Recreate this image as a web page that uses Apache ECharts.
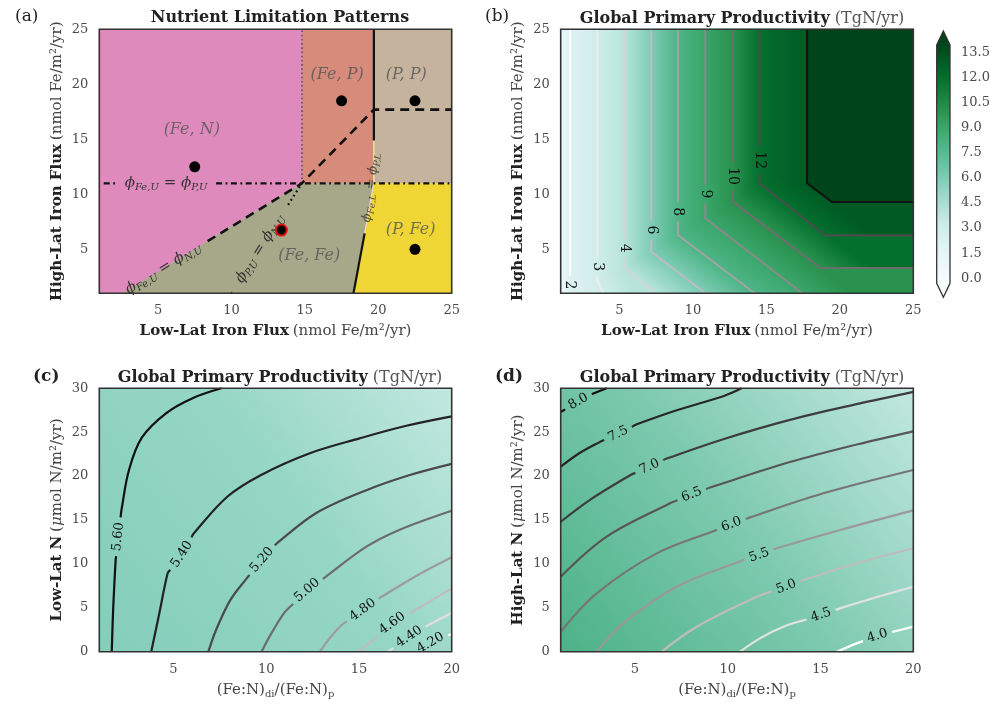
<!DOCTYPE html>
<html>
<head>
<meta charset="utf-8">
<script src="https://cdn.jsdelivr.net/npm/echarts@6.0.0/dist/echarts.min.js"></script>
<style>html,body{margin:0;padding:0;background:#fff;}#chart{width:990px;height:706px;}</style>
</head>
<body>
<div id="chart"></div>
<script>
// ======================= DATA =======================
// ---- Panel (a): nutrient limitation regimes ----
const aXRange = [1, 25];
const aYRange = [1, 25];
const aTicks = [5, 10, 15, 20, 25];
const aRegionNames = ['(Fe, N)', '(Fe, P)', '(P, P)', '(Fe, Fe)', '(P, Fe)'];
const aRegionLabelXY = [[7.3, 15.9], [17.2, 20.9], [21.9, 20.9], [15.3, 4.4], [22.2, 6.8]];
const aRegionPolygons = [
  [[1, 1], [2.6, 1], [14.8, 11], [14.8, 25], [1, 25]],
  [[14.8, 11], [19.7, 11], [19.7, 25], [14.8, 25]],
  [[19.7, 11], [25, 11], [25, 25], [19.7, 25]],
  [[2.6, 1], [18.31, 1], [19.07, 6.45], [19.7, 11], [14.8, 11]],
  [[18.31, 1], [25, 1], [25, 11], [19.7, 11], [19.07, 6.45]]
];
const aPoints = [[7.5, 12.5], [17.5, 18.5], [22.5, 18.5], [22.5, 5]];
const aHighlightPoint = [[13.4, 6.75]];
const aDashedLine = [[2.6, 1], [5.36, 3.26], [14.8, 11], [19.7, 17.7], [25, 17.7]];
const aDashDotLine = [[1.3, 11], [5.55, 11], [25, 11]];
const aDottedLine = [[10.0, 1], [11.95, 5.06], [14.8, 11]];
const aDottedVertical = [[14.8, 11], [14.8, 25]];
const aSolidLower = [[18.31, 1], [19.07, 6.45]];
const aSolidUpper = [[19.7, 14.9], [19.7, 25]];
const aThinLower = [[19.07, 6.45], [19.7, 11]];
const aThinUpper = [[19.7, 11], [19.7, 14.9]];
const aDashDotText = '{i|ϕ}{s|Fe,U}{i| = ϕ}{s|P,U}';
const aDashedText = '{i|ϕ}{s|Fe,U}{i| = ϕ}{s|N,U}';
const aDottedText = '{i|ϕ}{s|P,U}{i| = ϕ}{s|N,U}';
const aVerticalText = '{i|ϕ}{s|Fe,L}{i| = ϕ}{s|P,L}';
const aVerticalLabelXY = [19.5, 10.6];

// ---- Panel (b): productivity vs iron fluxes ----
const bXRange = [1, 25];
const bYRange = [1, 25];
const bTicks = [5, 10, 15, 20, 25];
const bLevels = [2, 3, 4, 6, 8, 9, 10, 12, 13];
const bContours = [
  [[1.63, 25], [1.63, 1.75], [1.63, 1]],
  [[3.49, 25], [3.49, 3.42], [3.49, 2.21], [3.9, 1]],
  [[5.34, 25], [5.34, 5.1], [5.34, 3.27], [7.45, 1]],
  [[7.16, 25], [7.16, 6.75], [7.16, 4.78], [10.85, 1]],
  [[8.98, 25], [8.98, 8.42], [8.98, 6.3], [14.2, 1]],
  [[10.84, 25], [10.84, 10.03], [10.84, 7.82], [17.45, 1]],
  [[12.7, 25], [12.7, 11.66], [12.7, 9.33], [18.68, 3.3], [25, 3.3]],
  [[14.54, 25], [14.54, 13.1], [14.54, 11.0], [19.0, 6.25], [25, 6.25]],
  [[17.77, 25], [17.77, 11.0], [19.47, 9.3], [25, 9.3]]
];
const bLabelVertex = [1, 1, 1, 1, 1, 1, 1, 1, null];
const bEdgeValues = [1.0, 13.94];     // value at left edge, value of plateau
const bColorbarExtent = [-0.3, 13.94];
const bColorbarTicks = [0, 13.5];

// ---- Panel (c): productivity vs Low-Lat N ----
const cXRange = [1, 20];
const cYRange = [0, 30];
const cXTicks = [5, 10, 15, 20];
const cLevels = ['5.60', '5.40', '5.20', '5.00', '4.80', '4.60', '4.40', '4.20'];
const cContours = [
  [[1.67, 0], [1.75, 5], [1.88, 10.4], [2.02, 13.1], [2.2, 16.2], [2.6, 20.7], [3.3, 24.4], [4.63, 27.2], [6.06, 28.9], [7.58, 30]],
  [[3.8, 0], [4.2, 4], [4.68, 8.9], [5.45, 11.1], [6.1, 13.5], [7.9, 17.65], [9.7, 20.1], [12.35, 22.6], [15.04, 24.3], [17.5, 25.7], [20, 26.8]],
  [[6.88, 0], [7.3, 2.5], [8.07, 5.9], [9.0, 8.5], [9.77, 10.45], [10.57, 12.35], [12.7, 15.8], [15.4, 18.4], [17.7, 20.1], [20, 21.4]],
  [[9.75, 0], [10.2, 1.8], [10.95, 4.37], [12.2, 7.0], [13.1, 8.36], [15.4, 11.96], [17.2, 13.9], [20, 16.06]],
  [[12.9, 0], [13.3, 1.2], [13.96, 2.85], [15.2, 4.75], [16.1, 6.1], [18.06, 8.6], [20, 10.75]],
  [[14.95, 0], [15.75, 1.33], [16.8, 3.23], [18.3, 5.07], [20, 7.2]],
  [[16.55, 0], [17.0, 0.6], [17.7, 1.7], [18.7, 3.0], [20, 4.4]],
  [[18.24, 0], [18.85, 1.0], [19.6, 1.7], [20, 2.0]]
];
const cLabelVertex = [3, 3, 4, 3, 3, 2, 2, 1];

// ---- Panel (d): productivity vs High-Lat N ----
const dXRange = [1, 20];
const dYRange = [0, 30];
const dXTicks = [5, 10, 15, 20];
const dLevels = ['8.0', '7.5', '7.0', '6.5', '6.0', '5.5', '5.0', '4.5', '4.0'];
const dContours = [
  [[1, 27.3], [1.95, 28.5], [2.76, 29.4], [3.48, 30]],
  [[1, 21.07], [2.0, 22.6], [3.12, 23.9], [4.1, 24.8], [5.1, 25.9], [7.25, 27.5], [9.76, 29.1], [10.75, 30]],
  [[1, 14.8], [2.58, 17.3], [4.74, 20.1], [5.78, 21.07], [6.71, 22.0], [9.76, 24.2], [13.35, 26.4], [16.95, 28.2], [20, 29.6]],
  [[1, 8.54], [3.48, 13.1], [6.89, 16.9], [8.06, 17.9], [9.05, 18.7], [13.35, 21.6], [16.95, 23.6], [20, 25.1]],
  [[1, 2.28], [2.94, 6.65], [6.17, 11.2], [9.4, 13.86], [10.2, 14.5], [11.2, 15.3], [15.15, 18.04], [20, 20.7]],
  [[2.94, 0], [4.37, 3.23], [7.25, 7.4], [10.84, 10.45], [11.7, 11.0], [12.64, 11.78], [16.05, 13.86], [20, 16.1]],
  [[6.44, 0], [8.33, 2.85], [11.57, 6.26], [13.15, 7.4], [14.08, 8.17], [16.95, 10.07], [20, 11.78]],
  [[10.66, 0], [11.8, 1.6], [13.0, 2.85], [15.03, 4.18], [16.05, 4.94], [18, 6.2], [20, 7.4]],
  [[15.88, 0], [16.95, 0.95], [18.07, 1.79], [18.93, 2.28], [20, 2.85]]
];
const dLabelVertex = [1, 3, 3, 3, 4, 4, 3, 3, 2];

// ======================= STYLE =======================
const FONT = 'DejaVu Serif';
const BuGn = ['#f7fcfd', '#e5f5f9', '#ccece6', '#99d8c9', '#66c2a4', '#41ae76', '#238b45', '#006d2c', '#00441b'];
const aRegionColors = ['#df8abd', '#d68b7b', '#c5b39d', '#a7a789', '#efd634'];
const bLineColors = ['#ffffff', '#ececec', '#d4d4d4', '#bdbdbd', '#a3a3a3', '#8a8a8a', '#6e6e6e', '#4d4d4d', '#111111'];
const cLineColors = ['#111111', '#222222', '#4a4a4a', '#6c6c6c', '#9c9c9c', '#bdbdbd', '#e0e0e0', '#fbfbfb'];
const dLineColors = ['#111111', '#262626', '#3d3d3d', '#575757', '#767676', '#999999', '#bdbdbd', '#e2e2e2', '#ffffff'];
const TICK_COLOR = '#4a4a4a';
const richMath = {
  i: { fontFamily: FONT, fontStyle: 'italic', fontSize: 15, fill: '#333' },
  s: { fontFamily: FONT, fontStyle: 'italic', fontSize: 10, fill: '#333', padding: [8, 0, 0, 0] }
};

// colour of a value on the BuGn scale used by panel (b)
function hexToRgb(h) { return [parseInt(h.substr(1, 2), 16), parseInt(h.substr(3, 2), 16), parseInt(h.substr(5, 2), 16)]; }
function scaleColor(v) {
  let t = (v - bColorbarExtent[0]) / (bColorbarExtent[1] - bColorbarExtent[0]);
  t = Math.max(0, Math.min(1, t)) * (BuGn.length - 1);
  const i = Math.min(BuGn.length - 2, Math.floor(t)), f = t - i;
  const a = hexToRgb(BuGn[i]), b = hexToRgb(BuGn[i + 1]);
  return 'rgb(' + a.map(function (c, k) { return Math.round(c + f * (b[k] - c)); }).join(',') + ')';
}

const measureCtx = document.createElement('canvas').getContext('2d');
function measure(str, size) { measureCtx.font = size + 'px "' + FONT + '"'; return measureCtx.measureText(str).width; }

function cutLine(px, li, half) {
  const s = [0];
  for (let i = 1; i < px.length; i++) s.push(s[i - 1] + Math.hypot(px[i][0] - px[i - 1][0], px[i][1] - px[i - 1][1]));
  const total = s[s.length - 1];
  const at = function (t) {
    t = Math.max(0, Math.min(total, t));
    for (let i = 1; i < px.length; i++) {
      if (t <= s[i] || i === px.length - 1) {
        const L = (s[i] - s[i - 1]) || 1;
        const f = (t - s[i - 1]) / L;
        return [px[i - 1][0] + f * (px[i][0] - px[i - 1][0]), px[i - 1][1] + f * (px[i][1] - px[i - 1][1])];
      }
    }
    return px[px.length - 1];
  };
  const s0 = s[li], a = s0 - half, b = s0 + half;
  const seg1 = [], seg2 = [];
  for (let i = 0; i < px.length; i++) if (s[i] < a) seg1.push(px[i]);
  if (a > 0) seg1.push(at(a));
  if (b < total) seg2.push(at(b));
  for (let i = 0; i < px.length; i++) if (s[i] > b) seg2.push(px[i]);
  const p1 = at(a), p2 = at(b);
  let ang = Math.atan2(-(p2[1] - p1[1]), p2[0] - p1[0]);
  if (ang > Math.PI / 2 + 0.01) ang -= Math.PI;
  if (ang < -Math.PI / 2 - 0.01) ang += Math.PI;
  return { segs: [seg1, seg2], pos: px[li], ang: ang };
}

function lineSeries(gi, defs, z) {
  return {
    type: 'custom', xAxisIndex: gi, yAxisIndex: gi, z: z, silent: true,
    data: defs.map(function (d, i) { return [i]; }),
    renderItem: function (params, api) {
      const d = defs[params.dataIndex];
      const px = d.pts.map(function (p) { return api.coord(p); });
      const children = [];
      let segs = [px];
      let lab = null;
      if (d.li !== null && d.li !== undefined) {
        const half = (d.gap != null) ? d.gap : measure(d.text, d.fontSize) / 2 + 5;
        lab = cutLine(px, d.li, half);
        segs = lab.segs;
      }
      segs.forEach(function (seg) {
        if (seg.length > 1) children.push({ type: 'polyline', shape: { points: seg, smooth: d.smooth || 0 },
          style: { stroke: d.color, lineWidth: d.width, fill: null, lineDash: d.dash || null, lineCap: d.cap || 'butt' } });
      });
      if (lab) {
        children.push({ type: 'text', x: lab.pos[0], y: lab.pos[1], rotation: lab.ang,
          style: { text: d.text, rich: d.rich, fontFamily: FONT, fontSize: d.fontSize, fontStyle: d.fontStyle || 'normal',
            fill: d.textColor || '#111', align: 'center', verticalAlign: 'middle' } });
      }
      return { type: 'group', children: children };
    }
  };
}

// ---- line definitions ----
const aLineDefs = [
  { pts: aThinLower, color: '#f3d9c8', width: 1.2 },
  { pts: aThinUpper, color: '#f4ee9c', width: 1.2 },
  { pts: aDottedVertical, color: '#5e4a8a', width: 1.6, dash: [1.6, 2.6] },
  { pts: aDashDotLine, color: '#111', width: 2.2, dash: [6, 3.5, 1.8, 3.5], li: 1, gap: 50, text: aDashDotText, rich: richMath, fontSize: 15 },
  { pts: aDottedLine, color: '#111', width: 2.2, dash: [1.8, 3.2], li: 1, gap: 52, text: aDottedText, rich: richMath, fontSize: 15 },
  { pts: aDashedLine, color: '#111', width: 2.6, dash: [9, 6], li: 1, gap: 52, text: aDashedText, rich: richMath, fontSize: 15 },
  { pts: aSolidLower, color: '#111', width: 2.2 },
  { pts: aSolidUpper, color: '#111', width: 2.2 }
];
const bLineDefs = bContours.map(function (pts, i) {
  return { pts: pts, color: bLineColors[i], width: 2, li: bLabelVertex[i], text: String(bLevels[i]), fontSize: 14, textColor: '#111' };
});
const cLineDefs = cContours.map(function (pts, i) {
  return { pts: pts, color: cLineColors[i], width: 2.2, li: cLabelVertex[i], text: cLevels[i], fontSize: 13, textColor: '#111', smooth: 0.35 };
});
const dLineDefs = dContours.map(function (pts, i) {
  return { pts: pts, color: dLineColors[i], width: 2.2, li: dLabelVertex[i], text: dLevels[i], fontSize: 13, textColor: '#111', smooth: 0.35 };
});

// ---- filled bands of panel (b) built from its contours ----
const bBoundaries = [[[bXRange[0], bYRange[1]], [bXRange[0], bYRange[0]]]].concat(bContours);
const bBoundaryValues = [bEdgeValues[0]].concat(bLevels);
function kneeIndex(pts) { let k = 0; for (let i = 0; i < pts.length; i++) if (pts[i][0] === pts[0][0]) k = i; return k; }

function bandPieces(k, api) {
  const A = bBoundaries[k], B = bBoundaries[k + 1];
  const cA = scaleColor(bBoundaryValues[k]), cB = scaleColor(bBoundaryValues[k + 1]);
  const kA = kneeIndex(A), kB = kneeIndex(B);
  const P = function (p) { return api.coord(p); };
  const pieces = [];
  // upper part: between the vertical stretches -> horizontal colour change
  const upper = A.slice(0, kA + 1).concat(B.slice(0, kB + 1).reverse()).map(P);
  const xa = P(A[0])[0], xb = P(B[0])[0];
  const g1 = { type: 'linear', global: true, x: xa, y: 0, x2: xb, y2: 0, colorStops: [{ offset: 0, color: cA }, { offset: 1, color: cB }] };
  pieces.push({ type: 'polygon', shape: { points: upper }, style: { fill: g1, stroke: g1, lineWidth: 1 } });
  // lower part: along the slanted stretches
  const endA = A[A.length - 1], endB = B[B.length - 1];
  const lowerData = A.slice(kA);
  if (endA[1] === bYRange[0] && endB[0] === bXRange[1] && endB[1] !== bYRange[0]) lowerData.push([bXRange[1], bYRange[0]]);
  const lower = lowerData.concat(B.slice(kB).reverse()).map(P);
  if (lower.length >= 3) {
    const src = (kA < A.length - 1) ? A : B, ks = (kA < A.length - 1) ? kA : kB;
    const p0 = P(src[ks]), p1 = P(src[Math.min(ks + 1, src.length - 1)]);
    const dx = p1[0] - p0[0], dy = p1[1] - p0[1];
    const len = Math.hypot(dx, dy) || 1;
    const n = [dy / len, -dx / len];
    const pa = P(A[kA]), pb = P(B[kB]);
    const dist = (pb[0] - pa[0]) * n[0] + (pb[1] - pa[1]) * n[1];
    let fill;
    if (dist > 1) fill = { type: 'linear', global: true, x: pa[0], y: pa[1], x2: pa[0] + n[0] * dist, y2: pa[1] + n[1] * dist,
      colorStops: [{ offset: 0, color: cA }, { offset: 1, color: cB }] };
    else fill = cB;
    pieces.push({ type: 'polygon', shape: { points: lower }, style: { fill: fill, stroke: fill, lineWidth: 1 } });
  }
  return pieces;
}

// ---- axes helpers ----
const axisRich = {
  b: { fontFamily: FONT, fontWeight: 'bold', fontSize: 15, color: '#222' },
  n: { fontFamily: FONT, fontWeight: 'normal', fontSize: 15, color: '#444' },
  it: { fontFamily: FONT, fontWeight: 'normal', fontStyle: 'italic', fontSize: 15, color: '#444' },
  sb: { fontFamily: FONT, fontWeight: 'normal', fontSize: 10, color: '#444', padding: [9, 0, 0, 0] }
};
const titleRich = {
  b: { fontFamily: FONT, fontWeight: 'bold', fontSize: 16, color: '#222' },
  n: { fontFamily: FONT, fontWeight: 'normal', fontSize: 16, color: '#555' },
  L: { fontFamily: FONT, fontWeight: 'normal', fontSize: 17, color: '#222' },
  LB: { fontFamily: FONT, fontSize: 17, fontWeight: 'bold', color: '#222' }
};
function xAxisOf(gi, range, ticks, name, nameGap) {
  return { type: 'value', gridIndex: gi, min: range[0], max: range[1],
    axisLine: { show: false }, axisTick: { show: false }, splitLine: { show: false },
    axisLabel: { customValues: ticks, color: TICK_COLOR, fontFamily: FONT, fontSize: 13, margin: 11 },
    name: name, nameLocation: 'middle', nameGap: nameGap, nameMoveOverlap: false,
    nameTextStyle: { fontFamily: FONT, fontWeight: 'normal', rich: axisRich } };
}
function yAxisOf(gi, range, ticks, interval, name, nameGap) {
  const ax = { type: 'value', gridIndex: gi, min: range[0], max: range[1],
    axisLine: { show: false }, axisTick: { show: false }, splitLine: { show: false },
    axisLabel: { color: TICK_COLOR, fontFamily: FONT, fontSize: 13, margin: 11 },
    name: name, nameLocation: 'middle', nameGap: nameGap, nameRotate: 90, nameMoveOverlap: false,
    nameTextStyle: { fontFamily: FONT, fontWeight: 'normal', rich: axisRich } };
  if (ticks) ax.axisLabel.customValues = ticks; else ax.interval = interval;
  return ax;
}

function frameSeries(gi, xr, yr) {
  return { type: 'custom', xAxisIndex: gi, yAxisIndex: gi, z: 20, silent: true,
    data: [[xr[0], yr[0], xr[1], yr[1]]],
    renderItem: function (params, api) {
      const p0 = api.coord([api.value(0), api.value(3)]);
      const p1 = api.coord([api.value(2), api.value(1)]);
      return { type: 'rect', shape: { x: p0[0], y: p0[1], width: p1[0] - p0[0], height: p1[1] - p0[1] },
        style: { fill: null, stroke: '#333', lineWidth: 1.6 } };
    } };
}

const gradC = { type: 'linear', x: 0, y: 1, x2: 1, y2: 0, colorStops: [
  { offset: 0, color: '#84ceba' }, { offset: 0.55, color: '#95d6c4' }, { offset: 1, color: '#c2e8e0' }] };
const gradD = { type: 'linear', x: 0, y: 1, x2: 1, y2: 0, colorStops: [
  { offset: 0, color: '#4cb287' }, { offset: 0.5, color: '#7ecab0' }, { offset: 1, color: '#c2e8df' }] };

const chart = echarts.init(document.getElementById('chart'));
const option = {
  animation: false,
  backgroundColor: '#ffffff',
  title: [
    { text: '{L|(a)}', left: 10, top: 3, textStyle: { fontWeight: 'normal', rich: titleRich } },
    { text: '{b|Nutrient Limitation Patterns}', left: 275, top: 5, textAlign: 'center', textStyle: { fontWeight: 'normal', rich: titleRich } },
    { text: '{L|(b)}', left: 480, top: 3, textStyle: { fontWeight: 'normal', rich: titleRich } },
    { text: '{b|Global Primary Productivity} {n|(TgN/yr)}', left: 737, top: 5, textAlign: 'center', textStyle: { fontWeight: 'normal', rich: titleRich } },
    { text: '{LB|(c)}', left: 28, top: 363, textStyle: { fontWeight: 'normal', rich: titleRich } },
    { text: '{b|Global Primary Productivity} {n|(TgN/yr)}', left: 275, top: 364, textAlign: 'center', textStyle: { fontWeight: 'normal', rich: titleRich } },
    { text: '{LB|(d)}', left: 490, top: 363, textStyle: { fontWeight: 'normal', rich: titleRich } },
    { text: '{b|Global Primary Productivity} {n|(TgN/yr)}', left: 737, top: 364, textAlign: 'center', textStyle: { fontWeight: 'normal', rich: titleRich } }
  ],
  grid: [
    { left: 99.3, top: 29.3, width: 352.4, height: 264, outerBoundsMode: 'none' },
    { left: 560.7, top: 29.3, width: 352.6, height: 264, outerBoundsMode: 'none' },
    { left: 99.3, top: 388.3, width: 352.4, height: 263.4, show: true, backgroundColor: gradC, borderWidth: 0, outerBoundsMode: 'none' },
    { left: 560.7, top: 388.3, width: 352.6, height: 263.4, show: true, backgroundColor: gradD, borderWidth: 0, outerBoundsMode: 'none' },
    { left: 936.7, top: 52.3, width: 13.3, height: 226, outerBoundsMode: 'none' }
  ],
  xAxis: [
    xAxisOf(0, aXRange, aTicks, '{b|Low-Lat Iron Flux} {n|(nmol Fe/m²/yr)}', 30),
    xAxisOf(1, bXRange, bTicks, '{b|Low-Lat Iron Flux} {n|(nmol Fe/m²/yr)}', 30),
    xAxisOf(2, cXRange, cXTicks, '{n|(Fe:N)}{sb|di}{n|/(Fe:N)}{sb|p}', 29),
    xAxisOf(3, dXRange, dXTicks, '{n|(Fe:N)}{sb|di}{n|/(Fe:N)}{sb|p}', 29),
    { type: 'value', gridIndex: 4, min: 0, max: 1, show: false }
  ],
  yAxis: [
    yAxisOf(0, aYRange, aTicks, null, '{b|High-Lat Iron Flux} {n|(nmol Fe/m²/yr)}', 35),
    yAxisOf(1, bYRange, bTicks, null, '{b|High-Lat Iron Flux} {n|(nmol Fe/m²/yr)}', 35),
    yAxisOf(2, cYRange, null, 5, '{b|Low-Lat N} {n|(}{it|μ}{n|mol N/m²/yr)}', 35),
    yAxisOf(3, dYRange, null, 5, '{b|High-Lat N} {n|(}{it|μ}{n|mol N/m²/yr)}', 35),
    { type: 'value', gridIndex: 4, min: bColorbarTicks[0], max: bColorbarTicks[1], interval: 1.5, position: 'right',
      axisLine: { show: false }, axisTick: { show: false }, splitLine: { show: false },
      axisLabel: { color: TICK_COLOR, fontFamily: FONT, fontSize: 13, margin: 11, formatter: function (v) { return v.toFixed(1); } } }
  ],
  series: [
    // 0 region polygons (a)
    { type: 'custom', xAxisIndex: 0, yAxisIndex: 0, z: 1, silent: true,
      data: aRegionPolygons.map(function (p, i) { return [i]; }),
      renderItem: function (params, api) {
        const pts = aRegionPolygons[params.dataIndex].map(function (p) { return api.coord(p); });
        return { type: 'polygon', shape: { points: pts }, style: { fill: aRegionColors[params.dataIndex], stroke: aRegionColors[params.dataIndex], lineWidth: 0.5 } };
      } },
    // 1 boundary lines (a)
    lineSeries(0, aLineDefs, 3),
    // 2 points (a)
    { type: 'scatter', xAxisIndex: 0, yAxisIndex: 0, z: 5, symbolSize: 11, itemStyle: { color: '#000', opacity: 1 }, data: aPoints },
    // 3 highlighted point (a)
    { type: 'scatter', xAxisIndex: 0, yAxisIndex: 0, z: 5, symbolSize: 11, itemStyle: { color: '#000', borderColor: '#e01010', borderWidth: 2, opacity: 1 }, data: aHighlightPoint },
    // 4 region labels (a)
    { type: 'scatter', xAxisIndex: 0, yAxisIndex: 0, z: 6, symbolSize: 0, silent: true,
      data: aRegionLabelXY.map(function (p, i) { return { value: p, name: aRegionNames[i] }; }),
      label: { show: true, position: 'inside', formatter: '{b}', fontFamily: FONT, fontStyle: 'italic', fontSize: 16, color: '#555' } },
    // 5 filled bands (b)
    { type: 'custom', xAxisIndex: 1, yAxisIndex: 1, z: 1, silent: true,
      data: bBoundaries.map(function (b, i) { return [i]; }),
      renderItem: function (params, api) {
        const k = params.dataIndex;
        if (k < bBoundaries.length - 1) return { type: 'group', children: bandPieces(k, api) };
        // plateau beyond the last contour
        const last = bBoundaries[k];
        const pts = last.concat([[bXRange[1], bYRange[1]]]).map(function (p) { return api.coord(p); });
        const col = scaleColor(bEdgeValues[1]);
        return { type: 'polygon', shape: { points: pts }, style: { fill: col, stroke: col, lineWidth: 1 } };
      } },
    // 6 contour lines (b)
    lineSeries(1, bLineDefs, 3),
    // 7 contour lines (c)
    lineSeries(2, cLineDefs, 3),
    // 8 contour lines (d)
    lineSeries(3, dLineDefs, 3),
    // 9 colorbar
    { type: 'custom', xAxisIndex: 4, yAxisIndex: 4, z: 3, silent: true,
      data: [[bColorbarExtent[0], bColorbarExtent[1]]],
      renderItem: function (params, api) {
        const lo = api.coord([0, api.value(0)]);
        const hi = api.coord([1, api.value(1)]);
        const x0 = lo[0], x1 = hi[0], yb = lo[1], yt = hi[1], mid = (x0 + x1) / 2, tri = 14;
        return { type: 'group', children: [
          { type: 'rect', shape: { x: x0, y: yt, width: x1 - x0, height: yb - yt },
            style: { fill: { type: 'linear', x: 0, y: 1, x2: 0, y2: 0, colorStops: BuGn.map(function (c, i) { return { offset: i / (BuGn.length - 1), color: c }; }) } } },
          { type: 'polygon', shape: { points: [[x0, yt], [x1, yt], [mid, yt - tri]] }, style: { fill: BuGn[BuGn.length - 1] } },
          { type: 'polygon', shape: { points: [[x0, yb], [x1, yb], [mid, yb + tri]] }, style: { fill: BuGn[0] } },
          { type: 'polygon', shape: { points: [[x0, yt], [mid, yt - tri], [x1, yt], [x1, yb], [mid, yb + tri], [x0, yb]] },
            style: { fill: null, stroke: '#333', lineWidth: 1.3 } }
        ] };
      } },
    // 10 vertical label in (a)
    { type: 'scatter', xAxisIndex: 0, yAxisIndex: 0, z: 6, symbolSize: 0, silent: true,
      data: [{ value: aVerticalLabelXY, name: aVerticalText }],
      label: { show: true, position: 'inside', rotate: 83, formatter: '{b}',
        rich: { i: { fontFamily: FONT, fontStyle: 'italic', fontSize: 13, color: '#333' },
                s: { fontFamily: FONT, fontStyle: 'italic', fontSize: 9, color: '#333', padding: [7, 0, 0, 0] } } } },
    frameSeries(0, aXRange, aYRange),
    frameSeries(1, bXRange, bYRange),
    frameSeries(2, cXRange, cYRange),
    frameSeries(3, dXRange, dYRange)
  ]
};
chart.setOption(option);
</script>
</body>
</html>
